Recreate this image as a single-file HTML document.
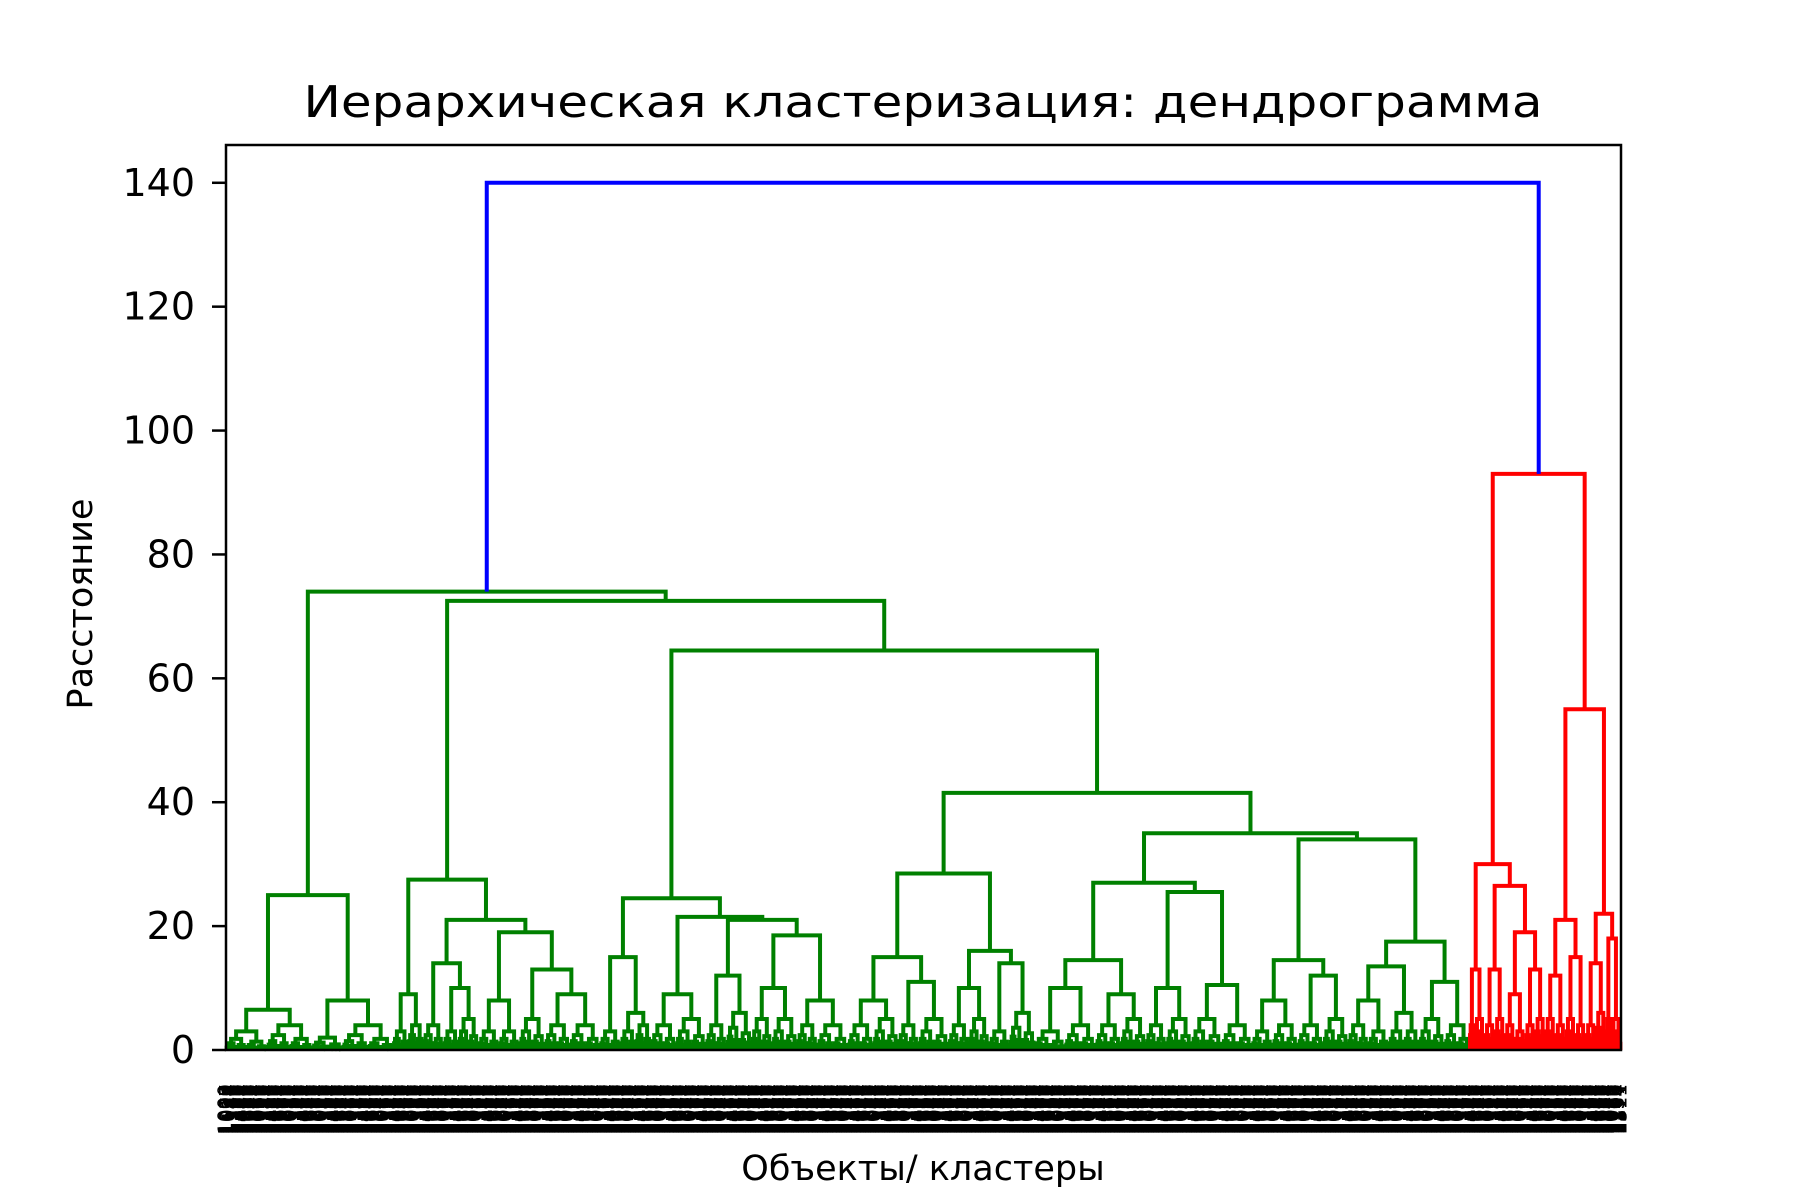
<!DOCTYPE html>
<html><head><meta charset="utf-8"><style>
html,body{margin:0;padding:0;background:#fff;}
svg{display:block;font-family:"DejaVu Sans","Liberation Sans",sans-serif;}
</style></head><body>
<svg id="chart" width="1800" height="1200" viewBox="0 0 1800 1200">
<text x="923" y="117" font-size="44" text-anchor="middle" textLength="1239" lengthAdjust="spacingAndGlyphs">Иерархическая кластеризация: дендрограмма</text>
<g id="labels"></g>
<g id="links"></g>
<rect x="226" y="145" width="1395" height="905" fill="none" stroke="#000" stroke-width="2.5"/>
<g id="yaxis"></g>
<text transform="translate(92,604) rotate(-90)" font-size="35" text-anchor="middle">Расстояние</text>
<text x="923" y="1180" font-size="35" text-anchor="middle">Объекты/ кластеры</text>
</svg>
<script>
// Tree data: node = [height, left, right]; leaf-blob = [leafCount, height]
const clusterA = [25, [6.5,[8,3],[9,4]], [8,[6,2],[10,4]]];
const clusterB = [27.5, [9,[3,3],[3,4]], [21, [14,[4,4],[10,[3,3],[4,5]]], [19, [8,[4,3],[4,3]], [13,[5,5],[9,[5,4],[6,4]]]]]];
const clusterC = [24.5, [15,[4,3],[6,[3,3],[3,4]]], [21.5, [9,[5,4],[6,5]], [21, [12,[4,4],[5,6]], [18.5,[10,[4,5],[5,5]],[8,[4,4],[6,4]]]]]];
const clusterD = [28.5, [15,[8,[5,4],[5,5]],[11,[4,4],[6,5]]], [16,[10,[4,4],[4,5]],[14,[4,3],[5,6]]]];
const clusterE = [27, [14.5,[10,[6,3],[6,4]],[9,[5,4],[5,5]]], [25.5,[10,[4,4],[5,5]],[10.5,[6,5],[6,4]]]];
const clusterF = [34, [14.5,[8,[4,3],[5,4]],[12,[5,4],[5,5]]], [17.5,[13.5,[8,[4,4],[4,3]],[6,[3,3],[3,3]]],[11,[5,5],[5,4]]]];
const clusterRed = [93, [30,[13,[1,4],[2,5]],[26.5,[13,[2,4],[2,5]],[19,[9,[2,4],[2,3]],[13,[2,4],[2,5]]]]], [55,[21,[12,[2,5],[2,4]],[15,[2,5],[2,4]]],[22,[14,[2,4],[2,6]],[18,[1,5],[2,5]]]]];
const mergeHeights = [140, 74, 72.5, 64.5, 41.5, 35];
const yTicks = [0, 20, 40, 60, 80, 100, 120, 140];
const leavesPerUnit = 4;

const green = [mergeHeights[1], clusterA, [mergeHeights[2], clusterB, [mergeHeights[3], clusterC, [mergeHeights[4], clusterD, [mergeHeights[5], clusterE, clusterF]]]]];
const root = [mergeHeights[0], green, clusterRed];

const NS = "http://www.w3.org/2000/svg";
const X0 = 226, X1 = 1621, YB = 1050, YT = 145, YMAX = 146.1;
const y = v => YB - v * (YB - YT) / YMAX;
function count(n){ return n.length === 2 ? n[0] * leavesPerUnit : count(n[1]) + count(n[2]); }
const N = count(root);
const step = (X1 - X0) / N;
const xLeaf = i => X0 + (i + 0.5) * step;
const links = document.getElementById('links');
function seg(pts, color){
  const p = document.createElementNS(NS, 'polyline');
  p.setAttribute('points', pts.map(q => q.join(',')).join(' '));
  p.setAttribute('fill', 'none');
  p.setAttribute('stroke', color);
  p.setAttribute('stroke-width', '4');
  
  
  links.appendChild(p);
}
let cursor = 0;
function blob(n, h, color){
  if (n === 1){ const x = xLeaf(cursor++); return {x, h: 0}; }
  const a = Math.ceil(n / 2), b = n - a;
  const l = blob(a, h * 0.6, color), r = blob(b, h * 0.45, color);
  seg([[l.x, y(l.h)], [l.x, y(h)], [r.x, y(h)], [r.x, y(r.h)]], color);
  return {x: (l.x + r.x) / 2, h};
}
function draw(n, color){
  if (n.length === 2) return blob(n[0] * leavesPerUnit, n[1], color);
  const l = draw(n[1], color), r = draw(n[2], color);
  seg([[l.x, y(l.h)], [l.x, y(n[0])], [r.x, y(n[0])], [r.x, y(r.h)]], color);
  return {x: (l.x + r.x) / 2, h: n[0]};
}
const gl = draw(green, '#008000');
const rr = draw(clusterRed, '#ff0000');
seg([[gl.x, y(gl.h)], [gl.x, y(root[0])], [rr.x, y(root[0])], [rr.x, y(rr.h)]], '#0000ff');

const labels = document.getElementById('labels');
for (let i = 0; i < N; i++){
  const t = document.createElementNS(NS, 'text');
  t.setAttribute('transform', `translate(${xLeaf(i) + 6},1084) rotate(-90)`);
  t.setAttribute('text-anchor', 'end');
  t.setAttribute('font-size', '20');
  t.textContent = String(1000 + ((i * 37) % 900));
  
  
  labels.appendChild(t);
}
const yaxis = document.getElementById('yaxis');
yTicks.forEach(v => {
  const l = document.createElementNS(NS, 'line');
  l.setAttribute('x1', 212); l.setAttribute('x2', 226);
  l.setAttribute('y1', y(v)); l.setAttribute('y2', y(v));
  l.setAttribute('stroke', '#000'); l.setAttribute('stroke-width', '2.5');
  
  
  yaxis.appendChild(l);
  const t = document.createElementNS(NS, 'text');
  t.setAttribute('x', 195); t.setAttribute('y', y(v) + 13);
  t.setAttribute('text-anchor', 'end'); t.setAttribute('font-size', '38');
  t.textContent = v;
  
  
  yaxis.appendChild(t);
});
</script>
</body></html>
